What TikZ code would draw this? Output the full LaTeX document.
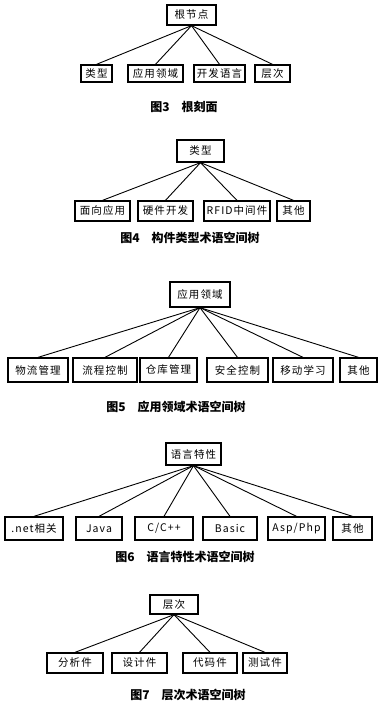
\documentclass[tikz,border=0pt]{standalone}
\usepackage{fontspec}
\setmainfont{Noto Sans CJK SC}
\usetikzlibrary{positioning}
\tikzset{
  term/.style={draw=black, line width=1.3pt, fill=white, inner sep=1pt,
               align=center,
               font=\fontsize{10.5}{12}\selectfont\addfontfeature{LetterSpace=10}},
  branch/.style={black, line width=0.9pt},
  caption/.style={font=\fontsize{12}{14}\selectfont\bfseries},
}
\begin{document}
\begin{tikzpicture}[x=1pt,y=-1pt]
  \path[use as bounding box, fill=white] (0,0) rectangle (385,704);

  % Figure 3: root facet.
  \node[term, minimum width=49pt, minimum height=20pt] (r3) at (191.5,15) {根节点};
  \foreach \txt/\xx/\ww [count=\i] in {类型/96.5/31,应用领域/155.5/55,开发语言/219.5/51,层次/272.5/35}{
    \node[term, minimum width=\ww pt, minimum height=17pt] (t3\i) at (\xx,73.5) {\txt};
    \draw[branch] (r3.south) -- (t3\i.north);
  }
  \node[caption] (c3) at (184,107) {图3\quad 根刻面};

  % Figure 4: component type tree.
  \node[term, minimum width=47pt, minimum height=22pt] (r4) at (200.5,151) {类型};
  \foreach \txt/\xx/\ww [count=\i] in {面向应用/102.5/55,硬件开发/165.5/55,RFID中间件/237/66,其他/293.5/33}{
    \node[term, minimum width=\ww pt, minimum height=20pt] (t4\i) at (\xx,211) {\txt};
    \draw[branch] (r4.south) -- (t4\i.north);
  }
  \node[caption] (c4) at (190,238) {图4\quad 构件类型术语空间树};

  % Figure 5: application domain tree.
  \node[term, minimum width=60pt, minimum height=25pt] (r5) at (200,294.5) {应用领域};
  \foreach \txt/\xx/\ww [count=\i] in {物流管理/38/60,流程控制/105/64,仓库管理/168.5/57,安全控制/237.5/61,移动学习/303/60,其他/358.5/37}{
    \node[term, minimum width=\ww pt, minimum height=24pt] (t5\i) at (\xx,370) {\txt};
    \draw[branch] (r5.south) -- (t5\i.north);
  }
  \node[caption] (c5) at (176,407) {图5\quad 应用领域术语空间树};

  % Figure 6: language feature tree.
  \node[term, minimum width=55pt, minimum height=22pt] (r6) at (193.5,454) {语言特性};
  \foreach \txt/\xx/\ww [count=\i] in {.net相关/34/58,Java/99/46,{C/C++}/164/58,Basic/230/54,{Asp/Php}/296.5/57,其他/352.5/39}{
    \node[term, minimum width=\ww pt, minimum height=23pt] (t6\i) at (\xx,528.5) {\txt};
    \draw[branch] (r6.south) -- (t6\i.north);
  }
  \node[caption] (c6) at (185,557) {图6\quad 语言特性术语空间树};

  % Figure 7: level tree.
  \node[term, minimum width=48pt, minimum height=19pt] (r7) at (174,604.5) {层次};
  \foreach \txt/\xx/\ww [count=\i] in {分析件/75/56,设计件/139.5/55,代码件/210/54,测试件/265/44}{
    \node[term, minimum width=\ww pt, minimum height=20pt] (t7\i) at (\xx,663) {\txt};
    \draw[branch] (r7.south) -- (t7\i.north);
  }
  \node[caption] (c7) at (188,695) {图7\quad 层次术语空间树};
\end{tikzpicture}
\end{document}
